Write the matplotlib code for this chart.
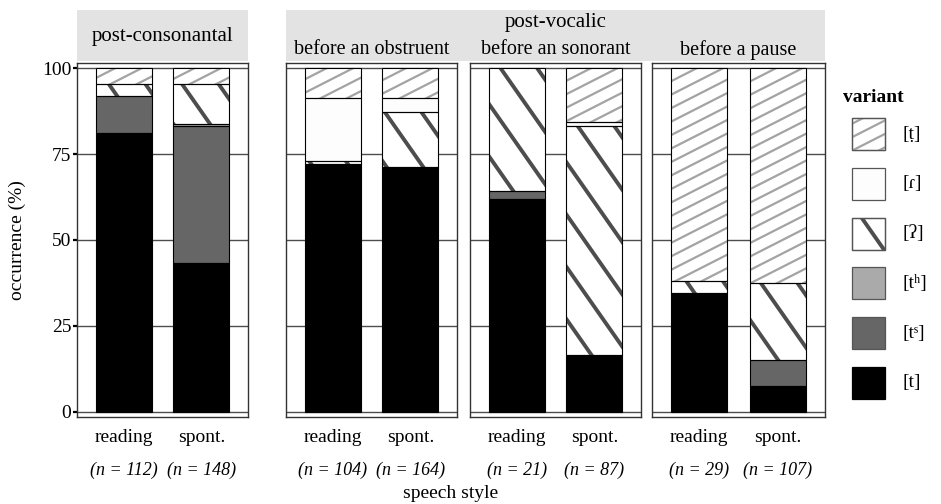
import numpy as np
import matplotlib
matplotlib.use("Agg")
import matplotlib.pyplot as plt
from matplotlib.patches import Rectangle
from matplotlib.collections import LineCollection
from matplotlib.transforms import IdentityTransform, blended_transform_factory

plt.rcParams['font.family'] = ['Liberation Serif', 'DejaVu Serif']

# facets and x categories
panels = ['post-consonantal', 'before an obstruent', 'before an sonorant', 'before a pause']
styles = ['reading', 'spont.']
n_tokens = [[112, 148], [104, 164], [21, 87], [29, 107]]

# variants from the bottom of the stack upwards
variants = ['[t]', '[tˢ]', '[tʰ]', '[ʔ]', '[ɾ]', '[ṭ]']

# shares in %, one value per bar: panel by panel, reading then spont.
pct_t = [81.25, 43.24, 72.12, 71.34, 61.9, 16.5, 34.48, 7.48]
pct_ts = [10.71, 39.86, 0, 0, 2.4, 0, 0, 7.48]
pct_th = [0, 0.68, 0, 0, 0, 0, 0, 0]
pct_glottal = [3.57, 11.49, 0.96, 15.85, 35.7, 66.8, 3.45, 22.43]
pct_tap = [0, 0, 18.27, 4.27, 0, 1.1, 0, 0]
pct_dental = [4.46, 4.73, 8.65, 8.54, 0, 15.6, 62.07, 62.62]
shares = [pct_t, pct_ts, pct_th, pct_glottal, pct_tap, pct_dental]

# fill colour and stripe kind for each variant
fills = ['black', '#666666', '#aaaaaa', 'white', '#fdfdfd', 'white']
stripes = [None, None, None, 'dark', None, 'light']
stripe_spec = {
    'light': dict(angle=27, spacing=12, color='#a3a3a3', lw=1.6),
    'dark': dict(angle=-55, spacing=30, color='#4d4d4d', lw=2.8),
}

W, H = 941, 504
fig = plt.figure(figsize=(W / 100, H / 100), dpi=100)


def px_box(x0, x1, y0, y1):
    return [x0 / W, 1 - y1 / H, (x1 - x0) / W, (y1 - y0) / H]


def add_stripes(ax, patch, angle, spacing, color, lw, zorder):
    ex = patch.get_extents()
    x0, y0, x1, y1 = ex.x0, ex.y0, ex.x1, ex.y1
    a = np.radians(angle)
    d = np.array([np.cos(a), np.sin(a)])
    nrm = np.array([-np.sin(a), np.cos(a)])
    corners = np.array([[x0, y0], [x0, y1], [x1, y0], [x1, y1]])
    proj = corners @ nrm
    centre = np.array([(x0 + x1) / 2, (y0 + y1) / 2])
    tc = centre @ d
    half = np.hypot(x1 - x0, y1 - y0)
    segs = []
    for k in range(int(np.floor(proj.min() / spacing)) - 1, int(np.ceil(proj.max() / spacing)) + 2):
        p = k * spacing * nrm
        segs.append([p + (tc - half) * d, p + (tc + half) * d])
    lc = LineCollection(segs, colors=color, linewidths=lw,
                        transform=IdentityTransform(), zorder=zorder)
    ax.add_collection(lc, autolim=False)
    # clip after adding, otherwise the axes patch replaces it
    lc.set_clip_path(patch)


panel_px = [(77, 248), (286, 457), (470, 641), (652, 825)]
top_px, bot_px = 63, 417
x = np.array([1, 2])

for i, (x0, x1) in enumerate(panel_px):
    ax = fig.add_axes(px_box(x0, x1, top_px, bot_px))
    ax.set_xlim(0.4, 2.6)
    ax.set_ylim(-1.5, 101.5)
    ax.set_yticks([0, 25, 50, 75, 100])
    ax.yaxis.grid(True, color='#4d4d4d', lw=1.0)
    ax.set_axisbelow(True)
    for sp in ax.spines.values():
        sp.set_color('#333333')
        sp.set_linewidth(1.0)

    bottom = np.zeros(2)
    for vals, fc, st in zip(shares, fills, stripes):
        h = np.array(vals[2 * i:2 * i + 2], dtype=float)
        for j in range(2):
            if h[j] <= 0:
                continue
            bar = ax.bar(x[j], h[j], bottom=bottom[j], width=0.72,
                         color=fc, edgecolor='none', zorder=2)[0]
            if st:
                add_stripes(ax, bar, zorder=2.5, **stripe_spec[st])
            ax.bar(x[j], h[j], bottom=bottom[j], width=0.72, fill=False,
                   edgecolor='black', linewidth=0.8, zorder=3)
        bottom += h

    ax.set_xticks(x)
    ax.set_xticklabels(styles, fontsize=14)
    ax.tick_params(axis='x', length=0, pad=9)
    if i == 0:
        ax.set_yticklabels(['0', '25', '50', '75', '100'], fontsize=14)
        ax.tick_params(axis='y', length=3, width=1.6, color='black', pad=1)
    else:
        ax.tick_params(axis='y', left=False, labelleft=False)

    tr = blended_transform_factory(ax.transData, fig.transFigure)
    for j in range(2):
        ax.text(x[j], 1 - 470 / H, f'(n = {n_tokens[i][j]})', transform=tr,
                ha='center', va='center', fontsize=13, style='italic')

# overlay in pixel units for the strips and the legend
lax = fig.add_axes([0, 0, 1, 1])
lax.set_xlim(0, W)
lax.set_ylim(H, 0)
lax.axis('off')

strip_top, strip_bot = 10, 61
x0, x1 = panel_px[0]
lax.add_patch(Rectangle((x0, strip_top), x1 - x0, strip_bot - strip_top,
                        facecolor='#e3e3e3', edgecolor='none'))
lax.text((x0 + x1) / 2, 36, panels[0], ha='center', va='center', fontsize=15)
lax.add_patch(Rectangle((panel_px[1][0], strip_top), panel_px[3][1] - panel_px[1][0],
                        strip_bot - strip_top, facecolor='#e3e3e3', edgecolor='none'))
lax.text((panel_px[1][0] + panel_px[3][1]) / 2, 22, 'post-vocalic',
         ha='center', va='center', fontsize=15)
for i in range(1, 4):
    x0, x1 = panel_px[i]
    lax.text((x0 + x1) / 2, 50, panels[i], ha='center', va='center', fontsize=14.5)

fig.text(451 / W, 1 - 493 / H, 'speech style', ha='center', va='center', fontsize=14)
fig.text(17 / W, 1 - 240 / H, 'occurrence (%)', ha='center', va='center',
         rotation=90, fontsize=14)

# legend, top entry is the top of the stack
lax.text(843, 97, 'variant', ha='left', va='center', fontsize=14, fontweight='bold')
for k, idx in enumerate(range(len(variants) - 1, -1, -1)):
    ky = 118 + 49.8 * k
    key = Rectangle((852, ky), 33, 32, facecolor=fills[idx],
                    edgecolor='#555555' if fills[idx] != 'black' else 'black',
                    linewidth=0.9, zorder=2)
    lax.add_patch(key)
    if stripes[idx]:
        add_stripes(lax, key, zorder=2.5, **stripe_spec[stripes[idx]])
        lax.add_patch(Rectangle((852, ky), 33, 32, fill=False,
                                edgecolor='#555555', linewidth=0.9, zorder=3))
    lax.text(903, ky + 16, variants[idx], ha='left', va='center', fontsize=14)

fig.savefig('out.png', dpi=100)
